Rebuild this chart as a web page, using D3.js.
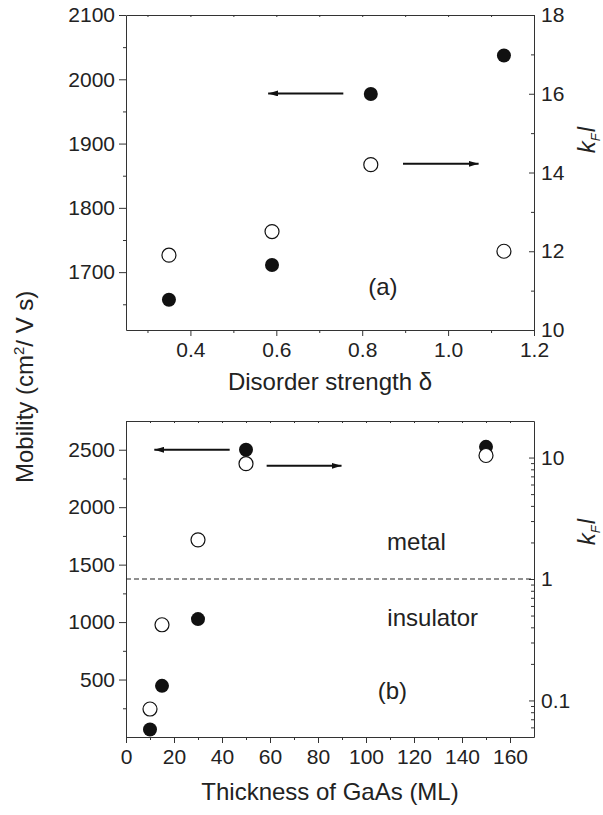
<!DOCTYPE html>
<html>
<head>
<meta charset="utf-8">
<script src="https://cdn.jsdelivr.net/npm/d3@7"></script>
<style>
    body { margin: 0; background: #fff; }
    text { font-family: "Liberation Sans", Arial, sans-serif; fill: #222; }
</style>
</head>
<body>
<div id="chart"></div>
<script>
'use strict';

// panel (a): disorder strength
var delta = [0.35, 0.59, 0.82, 1.13];
var mobilityA = [1657, 1711, 1977, 2037];
var kflA = [11.9, 12.5, 14.2, 12.0];
var deltaTicks = [0.4, 0.6, 0.8, 1.0, 1.2];
var deltaMinor = [0.3, 0.5, 0.7, 0.9, 1.1];
var mobilityATicks = [1700, 1800, 1900, 2000, 2100];
var mobilityAMinor = [1650, 1750, 1850, 1950, 2050];
var kflATicks = [10, 12, 14, 16, 18];
var kflAMinor = [11, 13, 15, 17];

// panel (b): GaAs thickness
var thickness = [10, 15, 30, 50, 150];
var mobilityB = [65, 445, 1026, 2500, 2525];
var kflB = [0.085, 0.42, 2.1, 8.9, 10.4];
var thicknessTicks = [0, 20, 40, 60, 80, 100, 120, 140, 160];
var thicknessMinor = [10, 30, 50, 70, 90, 110, 130, 150];
var mobilityBTicks = [500, 1000, 1500, 2000, 2500];
var mobilityBMinor = [250, 750, 1250, 1750, 2250];
var kflBTicks = [0.1, 1, 10];
var kflBMinor = [0.06, 0.07, 0.08, 0.09, 0.2, 0.3, 0.4, 0.5, 0.6, 0.7, 0.8, 0.9,
                 2, 3, 4, 5, 6, 7, 8, 9];

var W = 603, H = 815;
var left = 126, right = 534;

var svg = d3.select('#chart').append('svg').attr('width', W).attr('height', H);

svg.append('defs').append('marker')
    .attr('id', 'head')
    .attr('viewBox', '0 0 10 6')
    .attr('refX', 10)
    .attr('refY', 3)
    .attr('markerWidth', 10)
    .attr('markerHeight', 6)
    .attr('markerUnits', 'userSpaceOnUse')
    .attr('orient', 'auto')
    .append('path')
    .attr('d', 'M0,0L10,3L0,6Z')
    .attr('fill', '#111');

////////////

var xA = d3.scaleLinear().domain([0.25, 1.2]).range([left, right]);
var yA = d3.scaleLinear().domain([1610, 2100]).range([330, 15]);
var kA = d3.scaleLinear().domain([10, 18]).range([330, 15]);

var xB = d3.scaleLinear().domain([0, 170]).range([left, right]);
var yB = d3.scaleLinear().domain([0, 2750]).range([737, 421]);
var kB = d3.scaleLog().domain([0.05, 20]).range([737, 421]);

panel(xA, yA, kA, {
    xTicks: deltaTicks, xMinor: deltaMinor, xFmt: d3.format('.1f'),
    yTicks: mobilityATicks, yMinor: mobilityAMinor,
    kTicks: kflATicks, kMinor: kflAMinor
});
panel(xB, yB, kB, {
    xTicks: thicknessTicks, xMinor: thicknessMinor, xFmt: String,
    yTicks: mobilityBTicks, yMinor: mobilityBMinor,
    kTicks: kflBTicks, kMinor: kflBMinor
});

// metal / insulator boundary, k_F l = 1
svg.append('line')
    .attr('x1', xB(0)).attr('x2', xB(170))
    .attr('y1', kB(1)).attr('y2', kB(1))
    .attr('stroke', '#222')
    .attr('stroke-width', 1.2)
    .attr('stroke-dasharray', '5,3');

dots(xA, yA, kA, delta, mobilityA, kflA);
dots(xB, yB, kB, thickness, mobilityB, kflB);

arrow(xA(0.756), xA(0.581), yA(1978));
arrow(xA(0.895), xA(1.071), kA(14.22));
arrow(xB(43.2), xB(11.8), yB(2500));
arrow(xB(58.6), xB(89.8), kB(8.55));

note(xA(0.848), yA(1678), '(a)');
note(xB(121), yB(1698), 'metal');
note(xB(127.8), yB(1035), 'insulator');
note(xB(111), yB(408), '(b)');

svg.append('text')
    .attr('x', 330).attr('y', 390)
    .attr('text-anchor', 'middle')
    .attr('font-size', 24)
    .text('Disorder strength \u03b4');

svg.append('text')
    .attr('x', 330).attr('y', 800)
    .attr('text-anchor', 'middle')
    .attr('font-size', 24)
    .text('Thickness of GaAs (ML)');

var ylab = svg.append('text')
    .attr('transform', 'translate(33,483) rotate(-90)')
    .attr('font-size', 24);
ylab.append('tspan').text('Mobility (cm');
ylab.append('tspan').attr('font-size', 15).attr('dy', -9).text('2');
ylab.append('tspan').attr('dy', 9).text('/ V s)');

kflLabel(140);
kflLabel(532);

function panel(x, y, k, t) {
    var top = y.range()[1], bottom = y.range()[0];

    var gx = svg.append('g').attr('transform', 'translate(0,' + bottom + ')')
        .call(d3.axisBottom(x).tickValues(t.xTicks).tickFormat(t.xFmt)
            .tickSize(6).tickSizeOuter(0).tickPadding(6));
    var gxm = svg.append('g').attr('transform', 'translate(0,' + bottom + ')')
        .call(d3.axisBottom(x).tickValues(t.xMinor).tickFormat('').tickSize(3));
    var gt = svg.append('g').attr('transform', 'translate(0,' + top + ')')
        .call(d3.axisTop(x).tickValues(t.xTicks.concat(t.xMinor)).tickFormat('')
            .tickSize(-2).tickSizeOuter(0));

    var gy = svg.append('g').attr('transform', 'translate(' + left + ',0)')
        .call(d3.axisLeft(y).tickValues(t.yTicks).tickFormat(String)
            .tickSize(7).tickSizeOuter(0).tickPadding(4));
    var gym = svg.append('g').attr('transform', 'translate(' + left + ',0)')
        .call(d3.axisLeft(y).tickValues(t.yMinor).tickFormat('').tickSize(3));

    var gk = svg.append('g').attr('transform', 'translate(' + right + ',0)')
        .call(d3.axisRight(k).tickValues(t.kTicks).tickFormat(String)
            .tickSize(-5).tickSizeOuter(0).tickPadding(7));
    var gkm = svg.append('g').attr('transform', 'translate(' + right + ',0)')
        .call(d3.axisRight(k).tickValues(t.kMinor).tickFormat('').tickSize(-3));

    [gxm, gym, gkm].forEach(function (g) { g.select('.domain').remove(); });

    [gx, gxm, gt, gy, gym, gk, gkm].forEach(function (g) {
        g.attr('font-family', null).attr('font-size', null);
        g.selectAll('path, line').attr('stroke', '#333').attr('stroke-width', 1);
        g.selectAll('text').attr('font-size', 21).attr('fill', '#222');
    });
}

function dots(x, y, k, xs, ys, ks) {
    var g = svg.append('g');
    g.selectAll('circle.full')
        .data(xs)
        .enter()
        .append('circle')
        .attr('class', 'full')
        .attr('cx', function (d) { return x(d); })
        .attr('cy', function (d, i) { return y(ys[i]); })
        .attr('r', 7)
        .attr('fill', '#111');
    g.selectAll('circle.open')
        .data(xs)
        .enter()
        .append('circle')
        .attr('class', 'open')
        .attr('cx', function (d) { return x(d); })
        .attr('cy', function (d, i) { return k(ks[i]); })
        .attr('r', 7)
        .attr('fill', '#fff')
        .attr('stroke', '#111')
        .attr('stroke-width', 1.2);
}

function arrow(x1, x2, yy) {
    svg.append('line')
        .attr('x1', x1).attr('x2', x2)
        .attr('y1', yy).attr('y2', yy)
        .attr('stroke', '#111')
        .attr('stroke-width', 2)
        .attr('marker-end', 'url(#head)');
}

function note(cx, cy, s) {
    svg.append('text')
        .attr('x', cx).attr('y', cy)
        .attr('dy', '0.35em')
        .attr('text-anchor', 'middle')
        .attr('font-size', 24)
        .text(s);
}

function kflLabel(cy) {
    var t = svg.append('text')
        .attr('transform', 'translate(595,' + cy + ') rotate(-90)')
        .attr('text-anchor', 'middle')
        .attr('font-size', 24)
        .attr('font-style', 'italic');
    t.append('tspan').text('k');
    t.append('tspan').attr('font-size', 13).attr('dy', 5).text('F');
    t.append('tspan').attr('dy', -5).attr('dx', 1).text('l');
}
</script>
</body>
</html>
